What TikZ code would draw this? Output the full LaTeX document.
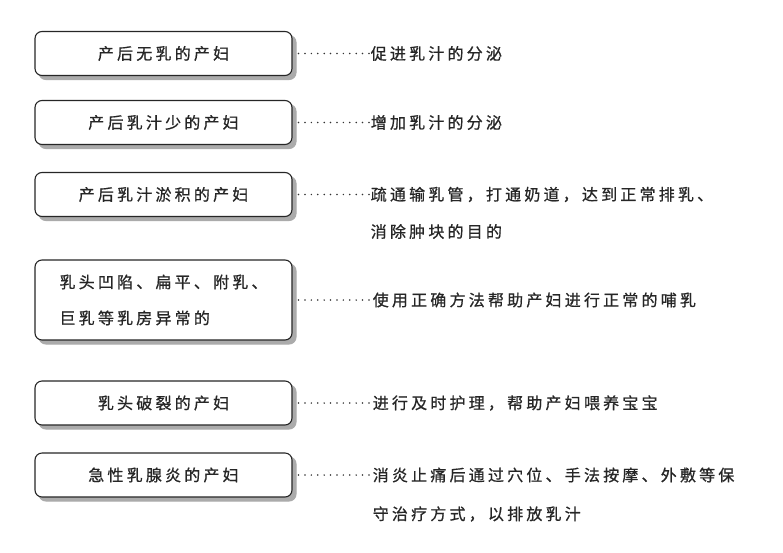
\documentclass[tikz,border=0pt]{standalone}
\usepackage{fontspec}
\newfontfamily\cjk[LetterSpace=20, FakeBold=0.8]{Noto Sans CJK SC}
\usetikzlibrary{positioning}
\definecolor{boxshade}{HTML}{ABABAB}

\begin{document}
\begin{tikzpicture}[x=1pt, y=-1pt,
    every node/.style={font={\cjk\fontsize{16pt}{36pt}\selectfont}, text=black!85},
    boxnode/.style={draw=black!85, line width=1.1pt, rounded corners=7pt, fill=white,
      minimum width=257pt, minimum height=44pt,
      preaction={fill=boxshade, draw=boxshade, transform canvas={xshift=4pt, yshift=-4pt}}},
    desclbl/.style={inner sep=0pt, anchor=west},
    dotline/.style={line width=1.7pt, line cap=round, dash pattern=on 0pt off 6.4pt,
      draw=black!80, shorten <=6pt, shorten >=1pt}]
    \useasboundingbox (0,0) rectangle (783,552);
    \node[boxnode] (b1) at (163.5,53.5) {产后无乳的产妇};
    \node[boxnode] (b2) at (163.5,122.5) {产后乳汁少的产妇};
    \node[boxnode] (b3) at (163.5,194.5) {产后乳汁淤积的产妇};
    \node[boxnode, align=left, minimum height=80pt] (b4) at (163.5,300) {乳头凹陷、扁平、附乳、\\巨乳等乳房异常的};
    \node[boxnode] (b5) at (163.5,403) {乳头破裂的产妇};
    \node[boxnode] (b6) at (163.5,475) {急性乳腺炎的产妇};
    \node[desclbl, right=78pt of b1] (d1) {促进乳汁的分泌};
    \node[desclbl, right=78pt of b2] (d2) {增加乳汁的分泌};
    \node[desclbl, right=78pt of b3] (d3) {疏通输乳管，打通奶道，达到正常排乳、};
    \node[desclbl] (d3b) at ([yshift=-37pt]d3.west) {消除肿块的目的};
    \node[desclbl, right=80pt of b4] (d4) {使用正确方法帮助产妇进行正常的哺乳};
    \node[desclbl, right=80pt of b5] (d5) {进行及时护理，帮助产妇喂养宝宝};
    \node[desclbl, right=80pt of b6] (d6) {消炎止痛后通过穴位、手法按摩、外敷等保};
    \node[desclbl] (d6b) at ([yshift=-39pt]d6.west) {守治疗方式，以排放乳汁};
    \draw[dotline] (b1) -- (d1);
    \draw[dotline] (b2) -- (d2);
    \draw[dotline] (b3) -- (d3);
    \draw[dotline] (b4) -- (d4);
    \draw[dotline] (b5) -- (d5);
    \draw[dotline] (b6) -- (d6);
  \end{tikzpicture}
\end{document}
